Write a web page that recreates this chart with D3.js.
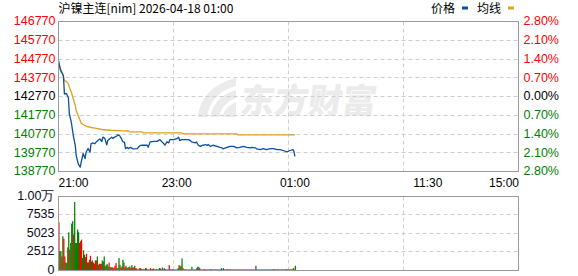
<!DOCTYPE html>
<html>
<head>
<meta charset="utf-8">
<script src="https://cdn.jsdelivr.net/npm/d3@7"></script>
<style>
  body { margin: 0; background: #fff; }
  text { font-family: "Liberation Sans", Arial, sans-serif; }
  .cjk { font-family: "Noto Sans CJK SC", sans-serif; }
</style>
</head>
<body>
<div id="chart"></div>
<script>

// Values

var title = "沪镍主连[nim] 2026-04-18 01:00";
var preClose = 142770;

var priceTicks = [138770, 139770, 140770, 141770, 142770, 143770, 144770, 145770, 146770];
var timeTickMinutes = [0, 120, 240, 375, 465];
var timeTickLabels = ["21:00", "23:00", "01:00", "11:30", "15:00"];
var volTicks = [0, 2512, 5023, 7535, 10046];
var volTickLabels = ["0", "2512", "5023", "7535", "1.00万"];

// minutes since 21:00 and last price
var priceMinute = [0, 2, 5, 6, 8, 10, 11, 13, 15, 17, 18, 20, 22, 23, 25, 27, 28, 30, 32, 33,
                   35, 37, 38, 40, 42, 44, 45, 47, 49, 50, 52, 54, 55, 57, 59, 60, 62, 64, 65, 67,
                   68, 70, 71, 73, 75, 76, 80, 81, 83, 86, 90, 91, 93, 97, 100, 103, 105, 107, 108, 110,
                   112, 113, 117, 120, 122, 123, 125, 128, 132, 134, 135, 139, 140, 142, 144, 146, 147, 149, 151, 152,
                   154, 157, 161, 164, 166, 167, 171, 174, 178, 181, 184, 188, 191, 195, 196, 200, 201, 205, 208, 211,
                   215, 218, 222, 225, 228, 232, 235, 238, 239, 240];
var priceValue = [144690, 144160, 143890, 142910, 142930, 142720, 141850, 141400, 140690, 140160,
                  139620, 139180, 139000, 139260, 139730, 139460, 139800, 140000, 139800, 140250,
                  140300, 140250, 140330, 140420, 140510, 140370, 140600, 140540, 140190, 140420,
                  140510, 140600, 140540, 140600, 140650, 140720, 140690, 140510, 140370, 140320,
                  139990, 140060, 139990, 140060, 139990, 139980, 139990, 140060, 140160, 140170,
                  140170, 140060, 140350, 140380, 140380, 140470, 140350, 140250, 140170, 140350,
                  140300, 140470, 140470, 140520, 140600, 140420, 140470, 140470, 140470, 140420,
                  140350, 140300, 140350, 140170, 140110, 140170, 140160, 140210, 140160, 140210,
                  140110, 140170, 140110, 140060, 140030, 139980, 140060, 140110, 140110, 140030,
                  140060, 140110, 140060, 140030, 140060, 140030, 139980, 139940, 139990, 139940,
                  139990, 139990, 139940, 139940, 139890, 139820, 139890, 139940, 139850, 139580];

// average price line
var avgMinute = [0, 3, 5, 6, 8, 10, 11, 13, 15, 17, 18, 20, 22, 23, 25, 28, 32, 37, 44, 52,
                 66, 71, 72, 85, 86, 125, 126, 181, 182, 240];
var avgValue = [144510, 144150, 143800, 143620, 143570, 143440, 143270, 143000, 142650, 142290,
                142020, 141760, 141490, 141350, 141260, 141190, 141130, 141080, 141010, 140970,
                140940, 140930, 140880, 140880, 140830, 140830, 140780, 140780, 140720, 140720];

// volume per minute (index = minutes since 21:00)
var volume = [6560, 2600, 2600, 1910, 4650, 4330, 1910, 1090, 1000, 3140, 5190, 2830, 3740, 6380, 6700, 4880, 9300, 3740, 3740, 5560,
              5190, 3740, 3960, 4190, 1690, 2730, 2140, 1820, 2280, 1090, 1090, 1460, 2000, 1230, 1370, 1090, 910, 1370, 1370, 1910,
              770, 910, 910, 910, 1370, 1230, 1910, 550, 770, 870, 550, 1090, 460, 410, 460, 320, 410, 640, 1000, 320,
              320, 1690, 770, 410, 550, 1460, 1090, 410, 640, 410, 320, 460, 550, 320, 730, 410, 410, 640, 320, 270,
              140, 140, 320, 320, 180, 140, 180, 140, 320, 270, 140, 140, 140, 320, 140, 180, 270, 140, 140, 180,
              140, 140, 320, 270, 140, 410, 140, 320, 180, 140, 140, 140, 730, 180, 140, 180, 140, 140, 140, 140,
              140, 320, 730, 550, 640, 1640, 320, 140, 180, 140, 140, 140, 140, 140, 140, 500, 140, 140, 140, 140,
              320, 500, 500, 320, 140, 140, 140, 140, 180, 140, 140, 140, 140, 140, 180, 140, 140, 140, 140, 140,
              140, 140, 140, 140, 140, 320, 140, 320, 140, 140, 140, 180, 140, 140, 180, 140, 140, 140, 140, 140,
              140, 140, 140, 140, 140, 140, 140, 140, 140, 140, 140, 140, 140, 140, 140, 140, 140, 140, 140, 140,
              640, 140, 140, 140, 140, 140, 140, 140, 140, 140, 140, 140, 140, 140, 140, 140, 140, 140, 180, 140,
              140, 140, 140, 140, 140, 140, 140, 140, 140, 140, 140, 180, 140, 140, 140, 140, 140, 140, 320, 140,
              640];

// 1 = up minute (red), 0 = down minute (green)
var volUp = [1, 0, 0, 1, 0, 1, 1, 0, 0, 0, 0, 1, 0, 0, 0, 1, 0, 0, 0, 0,
             0, 1, 1, 1, 0, 0, 0, 1, 1, 0, 0, 1, 1, 0, 0, 1, 1, 1, 1, 0,
             0, 1, 1, 1, 0, 0, 0, 1, 0, 0, 0, 1, 0, 1, 0, 1, 1, 1, 1, 0,
             0, 0, 0, 1, 1, 0, 0, 1, 1, 0, 0, 1, 0, 1, 0, 1, 1, 0, 1, 1,
             1, 0, 1, 1, 1, 1, 1, 0, 1, 0, 1, 1, 0, 1, 1, 1, 1, 0, 1, 1,
             1, 1, 0, 1, 1, 0, 1, 0, 1, 1, 1, 0, 1, 0, 1, 1, 1, 0, 1, 1,
             1, 0, 1, 0, 0, 0, 1, 1, 1, 1, 1, 0, 1, 1, 1, 0, 1, 1, 1, 1,
             0, 0, 0, 1, 1, 1, 1, 1, 1, 1, 1, 0, 1, 1, 0, 0, 1, 1, 1, 1,
             1, 1, 0, 1, 1, 0, 1, 0, 1, 1, 1, 1, 1, 1, 1, 1, 1, 1, 1, 1,
             1, 1, 1, 1, 1, 1, 0, 1, 1, 1, 1, 1, 0, 1, 1, 1, 1, 1, 1, 1,
             0, 1, 1, 1, 1, 1, 1, 1, 1, 1, 0, 1, 1, 1, 1, 1, 1, 1, 1, 1,
             1, 1, 1, 1, 1, 1, 0, 1, 1, 1, 1, 1, 1, 1, 1, 1, 1, 1, 1, 1,
             0];

// Layout

var W = 578, H = 276;
var left = 58.5, right = 518.5;
var mainTop = 21.5, mainBottom = 171.5;
var volTop = 196.5, volBottom = 270.5;

var red = "#ff0000", green = "#008000", dark = "#000000";
var priceColor = "#0a4fa0", avgColor = "#e0a21c";
var gridColor = "#cfcfcf", frameColor = "#9a9a9a";

var x = d3.scaleLinear()
    .domain([0, 467])
    .range([left, right]);

var y = d3.scaleLinear()
    .domain([priceTicks[0], priceTicks[priceTicks.length - 1]])
    .range([mainBottom, mainTop]);

var yVol = d3.scaleLinear()
    .domain([0, volTicks[volTicks.length - 1]])
    .range([volBottom, volTop]);

var svg = d3.select("#chart").append("svg")
    .attr("width", W)
    .attr("height", H)
    .style("display", "block");

function crisp(v) { return Math.round(v - 0.5) + 0.5; }

// Watermark

var wm = svg.append("g")
    .attr("fill", "#ebebeb")
    .attr("stroke", "none");

wm.append("path")
    .attr("d", "M198,117 C200,98 212,84 236,78 L236,86 C220,90 210,100 207,117 Z");
wm.append("path")
    .attr("d", "M210,117 C213,103 222,94 236,90 L236,98 C227,101 221,108 219,117 Z");
wm.append("path")
    .attr("d", "M222,117 C224,110 229,105 236,102 L236,117 Z");

wm.append("text")
    .attr("class", "cjk")
    .attr("x", 240)
    .attr("y", 113)
    .attr("transform", "skewX(-8) translate(15,0)")
    .style("font-size", "34px")
    .style("font-weight", 900)
    .text("东方财富");

// Grid lines

var qx = [1, 2, 3].map(function(k) { return crisp(left + (right - left) * k / 4); });

function grid(g, ys, top, bottom) {
  g.selectAll("line.h")
      .data(ys)
    .enter().append("line")
      .attr("class", "h")
      .attr("x1", left).attr("x2", right)
      .attr("y1", function(d) { return d; })
      .attr("y2", function(d) { return d; });
  g.selectAll("line.v")
      .data(qx)
    .enter().append("line")
      .attr("class", "v")
      .attr("x1", function(d) { return d; })
      .attr("x2", function(d) { return d; })
      .attr("y1", top).attr("y2", bottom);
}

var gridMain = svg.append("g")
    .attr("stroke", gridColor)
    .attr("stroke-dasharray", "4,3");
grid(gridMain, priceTicks.slice(1, -1).map(function(d) { return crisp(y(d)); }), mainTop, mainBottom);

var gridVol = svg.append("g")
    .attr("stroke", gridColor)
    .attr("stroke-dasharray", "4,3");
grid(gridVol, volTicks.slice(1, -1).map(function(d) { return crisp(yVol(d)); }), volTop, volBottom);

// Volume bars

var bw = x(1) - x(0);

svg.append("g")
    .attr("class", "bars")
  .selectAll("rect")
    .data(volume)
  .enter().append("rect")
    .attr("x", function(d, i) { return x(i) - 0.2; })
    .attr("width", bw + 0.25)
    .attr("y", function(d) { return yVol(d); })
    .attr("height", function(d) { return volBottom - yVol(d); })
    .attr("fill", function(d, i) { return volUp[i] ? red : green; });

// Price and average lines

var avgData = avgMinute.map(function(m, i) { return [m, avgValue[i]]; });
var priceData = priceMinute.map(function(m, i) { return [m, priceValue[i]]; });

var line = d3.line()
    .x(function(d) { return x(d[0]); })
    .y(function(d) { return y(d[1]); });

svg.append("path")
    .datum(avgData)
    .attr("fill", "none")
    .attr("stroke", avgColor)
    .attr("stroke-width", 1.3)
    .attr("d", line);

svg.append("path")
    .datum(priceData)
    .attr("fill", "none")
    .attr("stroke", priceColor)
    .attr("stroke-width", 1.3)
    .attr("stroke-linejoin", "round")
    .attr("d", line);

// Frames

svg.append("rect")
    .attr("x", left).attr("y", mainTop)
    .attr("width", right - left).attr("height", mainBottom - mainTop)
    .attr("fill", "none")
    .attr("stroke", frameColor);

svg.append("rect")
    .attr("x", left).attr("y", volTop)
    .attr("width", right - left).attr("height", volBottom - volTop)
    .attr("fill", "none")
    .attr("stroke", frameColor);

// Axis labels

function tone(v) { return v > preClose ? red : (v < preClose ? green : dark); }

svg.append("g")
  .selectAll("text")
    .data(priceTicks)
  .enter().append("text")
    .attr("x", left - 3)
    .attr("y", function(d) { return y(d); })
    .attr("dy", "0.3em")
    .attr("text-anchor", "end")
    .attr("fill", tone)
    .style("font-size", "12.5px")
    .text(function(d) { return d; });

svg.append("g")
  .selectAll("text")
    .data(priceTicks)
  .enter().append("text")
    .attr("x", right + 5)
    .attr("y", function(d) { return y(d); })
    .attr("dy", "0.3em")
    .attr("text-anchor", "start")
    .attr("fill", tone)
    .style("font-size", "12.5px")
    .text(function(d) { return Math.abs((d - preClose) / preClose * 100).toFixed(2) + "%"; });

svg.append("g")
  .selectAll("text")
    .data(timeTickMinutes)
  .enter().append("text")
    .attr("x", function(d, i) {
      if (i === 0) return left;
      if (i === timeTickMinutes.length - 1) return right + 0.5;
      return x(d);
    })
    .attr("y", 187)
    .attr("text-anchor", function(d, i) {
      return i === 0 ? "start" : (i === timeTickMinutes.length - 1 ? "end" : "middle");
    })
    .attr("fill", dark)
    .style("font-size", "12px")
    .text(function(d, i) { return timeTickLabels[i]; });

svg.append("g")
  .selectAll("text")
    .data(volTicks)
  .enter().append("text")
    .attr("x", left - 4)
    .attr("y", function(d) { return yVol(d); })
    .attr("dy", "0.27em")
    .attr("text-anchor", "end")
    .attr("fill", "#0a0a23")
    .style("font-size", "12.5px")
    .text(function(d, i) { return volTickLabels[i]; });

// Title and legend

svg.append("text")
    .attr("class", "cjk")
    .attr("x", left)
    .attr("y", 13)
    .attr("fill", dark)
    .style("font-size", "12px")
    .text(title);

var legend = svg.append("g");

legend.append("text")
    .attr("class", "cjk")
    .attr("x", 431)
    .attr("y", 13)
    .style("font-size", "12px")
    .text("价格");

legend.append("rect")
    .attr("x", 462).attr("y", 6.5)
    .attr("width", 6).attr("height", 3)
    .attr("fill", priceColor);

legend.append("text")
    .attr("class", "cjk")
    .attr("x", 477)
    .attr("y", 13)
    .style("font-size", "12px")
    .text("均线");

legend.append("rect")
    .attr("x", 508).attr("y", 6.5)
    .attr("width", 6).attr("height", 3)
    .attr("fill", avgColor);

</script>
</body>
</html>
